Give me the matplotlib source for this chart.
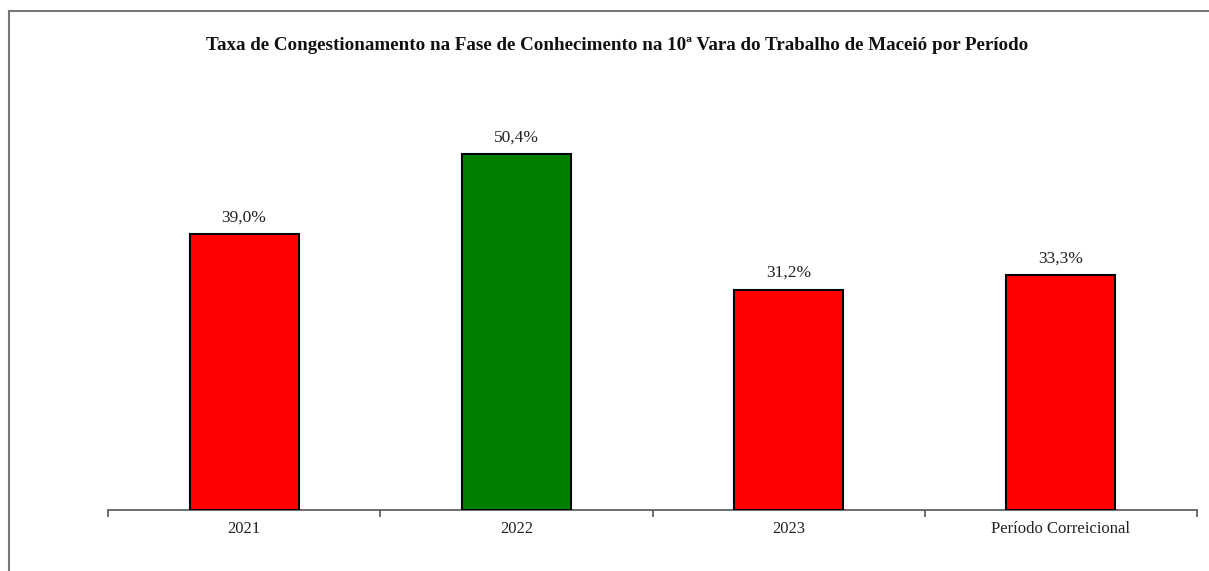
import matplotlib.pyplot as plt
from matplotlib.lines import Line2D

categories = ["2021", "2022", "2023", "Período Correicional"]
values = [39.0, 50.4, 31.2, 33.3]
colors = ["#ff0000", "#008000", "#ff0000", "#ff0000"]
title = "Taxa de Congestionamento na Fase de Conhecimento na 10ª Vara do Trabalho de Maceió por Período"

plt.rcParams['font.family'] = ['Liberation Serif', 'DejaVu Serif']

fig = plt.figure(figsize=(12.09, 5.71), dpi=100)
W, H = 1209, 571
ax = fig.add_axes([108 / W, 1 - 510 / H, (1197 - 108) / W, (510 - 86) / H])

x = range(len(categories))
ax.bar(x, values, width=0.4, color=colors, edgecolor="black", linewidth=1.5, zorder=3)

# value labels
for i, v in enumerate(values):
    ax.text(i, v + 1.2, f"{v:.1f}%".replace(".", ","), ha="center", va="bottom",
            fontsize=12.5, color="#222222")

ax.set_xlim(-0.5, len(categories) - 0.5)
ax.set_ylim(0, 60)
ax.set_yticks([])
ax.set_xticks(list(x))
ax.set_xticklabels(categories, fontsize=12, color="#222222")
ax.tick_params(axis="x", length=0, pad=8)
for s in ["top", "right", "left"]:
    ax.spines[s].set_visible(False)
ax.spines["bottom"].set_color("#555555")
ax.spines["bottom"].set_linewidth(1.2)

# tick marks at category boundaries
ax.set_xticks([i - 0.5 for i in range(len(categories) + 1)], minor=True)
ax.tick_params(axis="x", which="minor", length=5, width=1.2, color="#555555", direction="out")

fig.text(617.5 / W, 1 - 45.5 / H, title, ha="center", va="center",
         fontsize=13.7, fontweight="bold", color="#111111")

# outer frame (top and left edges)
fig.add_artist(Line2D([8.5 / W, 8.5 / W], [0, 1 - 10.5 / H], transform=fig.transFigure,
                      color="#777777", linewidth=1.5))
fig.add_artist(Line2D([8.5 / W, 1], [1 - 10.5 / H, 1 - 10.5 / H], transform=fig.transFigure,
                      color="#777777", linewidth=1.5))

fig.savefig("out.png", dpi=100)
